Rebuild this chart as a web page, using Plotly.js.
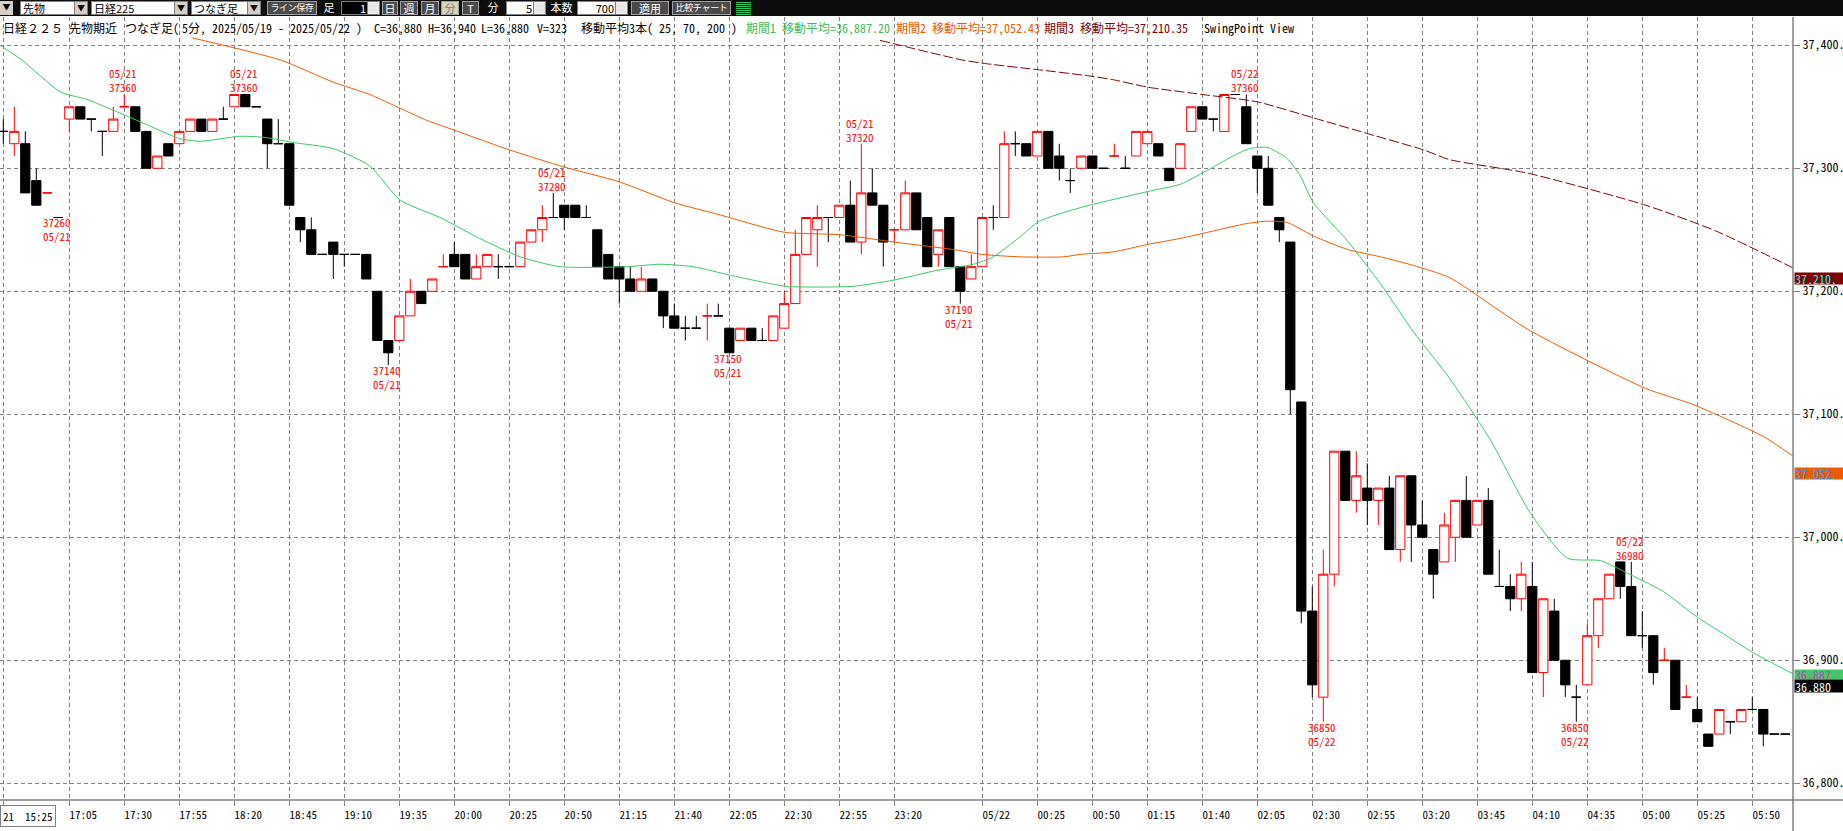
<!DOCTYPE html>
<html><head><meta charset="utf-8">
<script src="https://cdn.plot.ly/plotly-3.0.1.min.js"></script>
<style>
body{margin:0;padding:0;width:1843px;height:831px;overflow:hidden;background:#fff;position:relative;}
#chart{position:absolute;left:0;top:0;width:1843px;height:831px;}
#toolbar{position:absolute;left:0;top:0;width:1843px;height:16px;background:#0d0d0d;font-family:"Noto Sans CJK JP",sans-serif;}
.tb{position:absolute;top:1px;height:14px;font-size:11px;line-height:12px;box-sizing:border-box;white-space:pre;}
.sel{background:#fff;color:#000;border:1px solid #808080;padding-left:2px;}
.dd{position:absolute;right:0;top:0;width:12px;height:12px;background:#d4d0c8;border-left:1px solid #808080;font-size:8px;text-align:center;line-height:12px;color:#000;}
.btn{background:#4a4a4a;color:#fff;border:1px solid #a0a0a0;text-align:center;}
.lbl{color:#fff;text-align:center;}
.inp{background:#fff;color:#000;border:1px solid #808080;text-align:right;padding-right:13px;}
.spin{position:absolute;right:0;top:0;width:11px;height:12px;background:#e8e8e8;border-left:1px solid #808080;}
#header span{position:absolute;top:21px;font-size:12px;line-height:14px;white-space:pre;font-family:"Noto Sans Mono CJK JP","Noto Sans CJK JP",monospace;}
</style></head>
<body>
<div id="chart"></div>
<div id="toolbar">
 <div class="tb" style="left:0;width:13px;background:#d4d0c8;color:#000;text-align:center;font-size:8px;">▼</div>
 <div class="tb sel" style="left:20px;width:68px;">先物<div class="dd">▼</div></div>
 <div class="tb sel" style="left:91px;width:97px;">日経225<div class="dd">▼</div></div>
 <div class="tb sel" style="left:191px;width:70px;">つなぎ足<div class="dd">▼</div></div>
 <div class="tb btn" style="left:267px;width:50px;font-size:9px;letter-spacing:-0.4px;padding:0;">ライン保存</div>
 <div class="tb lbl" style="left:321px;width:16px;">足</div>
 <div class="tb inp" style="left:341px;width:39px;background:#000;color:#fff;">1<div class="spin"></div></div>
 <div class="tb btn" style="left:382px;width:16px;padding:0;">日</div>
 <div class="tb btn" style="left:400px;width:18px;padding:0;">週</div>
 <div class="tb btn" style="left:421px;width:18px;padding:0;">月</div>
 <div class="tb btn" style="left:441px;width:18px;padding:0;background:#d8d4b8;color:#777;">分</div>
 <div class="tb btn" style="left:462px;width:17px;padding:0;">T</div>
 <div class="tb lbl" style="left:485px;width:16px;">分</div>
 <div class="tb inp" style="left:506px;width:40px;">5<div class="spin"></div></div>
 <div class="tb lbl" style="left:548px;width:27px;">本数</div>
 <div class="tb inp" style="left:577px;width:51px;">700<div class="spin"></div></div>
 <div class="tb btn" style="left:631px;width:38px;">適用</div>
 <div class="tb btn" style="left:672px;width:59px;font-size:9px;letter-spacing:-0.3px;padding:0;">比較チャート</div>
 <div class="tb" style="left:736px;width:15px;background:repeating-linear-gradient(#0d0d0d 0 1px,#2ecc55 1px 2px);"></div>
</div>
<div id="header">
 <span style="left:3px;color:#000;">日経２２５</span>
 <span style="left:69px;color:#000;">先物期近</span>
 <span style="left:125px;color:#000;">つなぎ足(</span>
 <span style="left:182px;color:#000;">5分, 2025/05/19 -</span>
 <span style="left:290px;color:#000;">2025/05/22 )</span>
 <span style="left:374px;color:#000;">C=36,880</span>
 <span style="left:428px;color:#000;">H=36,940</span>
 <span style="left:481px;color:#000;">L=36,880</span>
 <span style="left:537px;color:#000;">V=323</span>
 <span style="left:581px;color:#000;">移動平均3本( 25, 70, 200 )</span>
 <span style="left:746px;color:#3cb85a;">期間1 移動平均=36,887.20</span>
 <span style="left:896px;color:#e85a00;">期間2 移動平均=37,052.43</span>
 <span style="left:1044px;color:#800000;">期間3 移動平均=37,210.35</span>
 <span style="left:1204px;color:#000;">SwingPoint View</span>
</div>
<script>
// ---- candle data (bar index 0 = 05/21 15:25, 5-minute bars) ----
const openP  = [37330,37320,37320,37290,37280,37260,37340,37350,37340,37330,37330,37350,37350,37330,37300,37320,37320,37330,37340,37330,
                37340,37350,37360,37350,37340,37320,37320,37260,37250,37230,37240,37230,37230,37230,37200,37160,37160,37180,37200,37200,
                37220,37230,37230,37210,37220,37220,37220,37220,37240,37250,37260,37270,37270,37260,37250,37230,37220,37210,37200,37210,
                37200,37180,37170,37170,37180,37180,37170,37160,37170,37160,37160,37170,37190,37230,37250,37260,37260,37270,37240,37280,
                37270,37250,37250,37280,37260,37230,37260,37220,37210,37220,37260,37260,37320,37320,37310,37330,37310,37290,37300,37310,
                37300,37310,37300,37310,37320,37320,37300,37300,37330,37350,37340,37330,37360,37350,37310,37300,37260,37240,37110,36940,
                36870,36970,37070,37030,37040,37030,37040,36990,37050,37010,36990,36980,37000,37030,37010,37030,36960,36960,36950,36960,
                36890,36940,36900,36870,36880,36920,36950,36980,36960,36920,36920,36900,36900,36870,36860,36840,36840,36850,36850,36860,
                36860,36840,36840];
const highP  = [37340,37350,37330,37300,37280,37260,37350,37350,37340,37330,37350,37360,37350,37330,37310,37320,37330,37340,37340,37340,
                37350,37360,37360,37350,37340,37340,37320,37260,37260,37230,37240,37230,37230,37230,37200,37160,37180,37210,37200,37210,
                37230,37240,37230,37230,37230,37230,37220,37240,37250,37270,37280,37270,37270,37270,37250,37230,37220,37220,37220,37210,
                37200,37190,37180,37180,37190,37190,37170,37170,37170,37170,37180,37200,37250,37260,37270,37260,37270,37290,37320,37300,
                37270,37250,37290,37280,37260,37250,37260,37220,37230,37260,37270,37330,37330,37320,37330,37330,37320,37300,37310,37310,
                37300,37320,37310,37330,37330,37320,37300,37320,37350,37350,37340,37360,37360,37360,37310,37310,37260,37240,37110,36960,
                36990,37070,37070,37070,37060,37040,37050,37050,37050,37030,36990,37020,37030,37050,37030,37040,36990,36970,36980,36980,
                36950,36950,36900,36880,36930,36950,36970,36980,36980,36940,36920,36910,36900,36880,36870,36840,36860,36850,36860,36870,
                36860,36840,36840];
const lowP   = [37320,37310,37280,37270,37280,37260,37330,37340,37330,37310,37330,37350,37330,37300,37300,37310,37320,37330,37330,37330,
                37340,37350,37350,37350,37300,37320,37270,37240,37230,37230,37210,37220,37230,37210,37160,37140,37160,37180,37190,37200,
                37220,37220,37210,37210,37220,37210,37220,37220,37240,37240,37260,37250,37260,37260,37220,37210,37190,37200,37200,37200,
                37170,37170,37160,37170,37160,37180,37150,37160,37160,37160,37160,37170,37190,37230,37220,37240,37260,37240,37230,37270,
                37220,37240,37250,37250,37220,37220,37220,37190,37210,37220,37250,37260,37310,37310,37310,37300,37290,37280,37300,37300,
                37300,37310,37300,37310,37320,37310,37290,37300,37330,37340,37330,37330,37360,37320,37280,37270,37240,37100,36930,36870,
                36850,36960,37030,37020,37010,37010,36990,36980,36980,37000,36950,36980,36980,37000,37010,36970,36960,36940,36940,36890,
                36870,36900,36870,36850,36880,36910,36950,36950,36920,36910,36880,36900,36860,36870,36850,36830,36840,36840,36850,36860,
                36830,36840,36840];
const closeP = [37330,37330,37280,37270,37280,37260,37350,37340,37340,37330,37340,37350,37330,37300,37310,37310,37330,37340,37330,37340,
                37340,37360,37350,37350,37320,37320,37270,37250,37230,37230,37230,37230,37230,37210,37160,37150,37180,37200,37190,37210,
                37220,37220,37210,37220,37230,37220,37220,37240,37250,37260,37260,37260,37260,37260,37220,37210,37210,37200,37210,37200,
                37180,37170,37170,37170,37180,37180,37150,37170,37160,37160,37180,37190,37230,37260,37260,37260,37270,37240,37280,37270,
                37240,37250,37280,37250,37220,37250,37220,37200,37220,37260,37260,37320,37320,37310,37330,37300,37300,37290,37310,37300,
                37300,37310,37300,37330,37330,37310,37290,37320,37350,37340,37340,37360,37360,37320,37300,37270,37250,37120,36940,36880,
                36970,37070,37030,37050,37030,37040,36990,37050,37010,37000,36970,37010,37030,37000,37030,36970,36960,36950,36970,36890,
                36950,36900,36880,36870,36920,36950,36970,36960,36920,36920,36890,36900,36860,36870,36850,36830,36860,36850,36860,36860,
                36840,36840,36840];

// ---- time axis ----
const tickIdx  = [6,11,16,21,26,31,36,41,46,51,56,61,66,71,76,81,89,94,99,104,109,114,119,124,129,134,139,144,149,154,159];
const tickText = ['17:05','17:30','17:55','18:20','18:45','19:10','19:35','20:00','20:25','20:50','21:15','21:40','22:05','22:30','22:55','23:20',
                  '05/22','00:25','00:50','01:15','01:40','02:05','02:30','02:55','03:20','03:45','04:10','04:35','05:00','05:25','05:50'];
const firstLabel = '21  15:25';
const priceTicks = [36800,36900,37000,37100,37200,37300,37400];

// ---- swing points ----
const swingIdx   = [5,11,22,35,50,66,78,87,113,120,143,148];
const swingPrice = [37260,37360,37360,37140,37280,37150,37320,37190,37360,36850,36850,36980];
const swingDate  = ['05/21','05/21','05/21','05/21','05/21','05/21','05/21','05/21','05/22','05/22','05/22','05/22'];
const swingHigh  = [false,true,true,false,true,false,true,false,true,false,false,true];

// ---- moving averages (bar-index positions) ----
const ma25Idx = [-0.3,1.7,5.2,7.6,12.4,16.1,17.9,21.5,23.9,26.3,30,33.3,36.1,39.7,43.3,47,50.6,56.7,59.7,62.7,66.1,68.2,71.2,77.2,80.9,84.9,88.2,90,92.4,94.2,97.9,104,107,110,111.8,113.3,114.9,116.7,117.9,119.1,122.2,125.2,128.2,131.5,135.2,138.8,142.2,145.2,147.6,150.9,154,156.3,159.1,162.7];
const ma25Val = [37400,37388,37362,37356,37338,37324,37322,37326,37325,37321,37316,37302,37274,37260,37243,37228,37220,37220,37222,37220,37213,37209,37204,37204,37209,37217,37222,37228,37244,37257,37268,37281,37287,37301,37310,37316,37317,37308,37294,37272,37241,37206,37167,37129,37079,37020,36983,36981,36971,36956,36935,36922,36906,36889];
const ma70Idx = [17.2,25.2,30,33.3,38.5,41,46,51,56,61,65.2,71,76,81,86.3,89,92.4,96.4,97.9,100.9,104,107,110,113,114.9,116.7,119.1,122.2,125.2,128.2,131.5,138.6,149.3,153.6,160,162.7];
const ma70Val = [37406,37388,37370,37360,37339,37331,37315,37301,37289,37272,37262,37248,37246,37240,37234,37230,37228,37228,37230,37232,37238,37243,37249,37255,37257,37256,37245,37234,37228,37221,37211,37169,37121,37108,37082,37066];
const ma200Idx = [79.7,87.2,89.4,94.2,98.8,100.9,104,109,114,119.1,124.1,129.1,131.5,138.6,149.3,155.7,162.7];
const ma200Val = [37404,37388,37385,37380,37375,37372,37366,37360,37354,37341,37328,37315,37307,37296,37270,37249,37219];
const maLast = [36887, 37052, 37210];
const lastPrice = 36880;

// ---- build traces ----
const up = {x:[],o:[],h:[],l:[],c:[]}, dn = {x:[],o:[],h:[],l:[],c:[]};
for (let i = 0; i < openP.length; i++) {
  const prev = i > 0 ? closeP[i-1] : null;
  const isUp = closeP[i] > openP[i] || (closeP[i] === openP[i] && prev !== null && closeP[i] > prev);
  const t = isUp ? up : dn;
  t.x.push(i); t.o.push(openP[i]); t.h.push(highP[i]); t.l.push(lowP[i]); t.c.push(closeP[i]);
}
function candle(d, col, fill) {
  return {type:'candlestick', x:d.x, open:d.o, high:d.h, low:d.l, close:d.c,
    increasing:{line:{color:col,width:1},fillcolor:fill},
    decreasing:{line:{color:col,width:1},fillcolor:fill},
    whiskerwidth:0, hoverinfo:'skip', showlegend:false};
}
const traces = [
  {type:'scatter',mode:'lines',x:ma70Idx,y:ma70Val,line:{color:'#f05a00',width:1,shape:'spline',smoothing:0.6},hoverinfo:'skip',showlegend:false},
  {type:'scatter',mode:'lines',x:ma200Idx,y:ma200Val,line:{color:'#800000',width:1,dash:'10px,3px',shape:'spline',smoothing:0.6},hoverinfo:'skip',showlegend:false},
  {type:'scatter',mode:'lines',x:ma25Idx,y:ma25Val,line:{color:'#3cc864',width:1,shape:'spline',smoothing:0.6},hoverinfo:'skip',showlegend:false},
  candle(up,'#ff0000','#ffffff'),
  candle(dn,'#000000','#000000')
];

const MONO = '"Noto Sans Mono CJK JP","Noto Sans CJK JP",monospace';
const annotations = [];
swingIdx.forEach((ix, k) => {
  const f = {family:MONO,size:11,color:'#ff0000'};
  const txt = swingHigh[k] ? swingDate[k] + '<br>' + swingPrice[k] : swingPrice[k] + '<br>' + swingDate[k];
  annotations.push({x:ix,y:swingPrice[k],xref:'x',yref:'y',text:txt,showarrow:false,yanchor:'middle',
    yshift: swingHigh[k] ? 14 : -12, xshift:-1.5, borderpad:0, font:f});
});
const fmt = v => v.toLocaleString('en-US');
const boxes = [
  {v:maLast[2], bg:'#800000', fc:'#00ffff', t:fmt(maLast[2])+'.', h:11, s:0},
  {v:maLast[1], bg:'#f05a00', fc:'#3399ff', t:fmt(maLast[1])+'.', h:11, s:0},
  {v:maLast[0], bg:'#44c868', fc:'#c040c0', t:fmt(maLast[0])+'.', h:9, s:2},
  {v:lastPrice, bg:'#000000', fc:'#ffffff', t:fmt(lastPrice), h:12, s:-1}
];
boxes.forEach(b => annotations.push({x:1,y:b.v,xref:'paper',yref:'y',xanchor:'left',xshift:1,yshift:b.s,text:b.t,showarrow:false,
  bgcolor:b.bg,width:48,height:b.h,align:'left',borderpad:0,font:{family:MONO,size:12,color:b.fc}}));
annotations.push({x:0,y:-16/783,xref:'paper',yref:'paper',xanchor:'left',yanchor:'middle',xshift:0,text:firstLabel,showarrow:false,
  bordercolor:'#808080',borderwidth:1,borderpad:2,font:{family:MONO,size:11,color:'#000'}});

const layout = {
  width:1843,height:831,margin:{l:0,r:50,t:17,b:31},
  paper_bgcolor:'#ffffff',plot_bgcolor:'#ffffff',
  boxgap:0.16, boxgroupgap:0,
  xaxis:{range:[-0.3,162.7],rangeslider:{visible:false},tickvals:[0].concat(tickIdx),ticktext:[''].concat(tickText),
    showgrid:true,gridcolor:'#808080',griddash:'4px,3px',gridwidth:1,zeroline:false,
    ticks:'outside',ticklen:5,tickcolor:'#808080',showline:false,ticklabelshift:14,
    tickfont:{family:MONO,size:11,color:'#000'}},
  yaxis:{side:'right',range:[36786.4,37423],tickvals:priceTicks,ticktext:priceTicks.map(v=>fmt(v)+'.'),
    showgrid:true,gridcolor:'#808080',griddash:'4px,3px',gridwidth:1,zeroline:false,
    ticks:'outside',ticklen:6,tickcolor:'#808080',showline:false,
    tickfont:{family:MONO,size:12,color:'#000'}},
  shapes:[
    {type:'line',xref:'paper',yref:'paper',x0:1,x1:1,y0:-31/783,y1:1,line:{color:'#808080',width:1.5}},
    {type:'line',xref:'paper',yref:'paper',x0:0,x1:1843/1793,y0:0,y1:0,line:{color:'#808080',width:1.5}}
  ],
  annotations:annotations,
  showlegend:false
};
Plotly.newPlot('chart',traces,layout,{staticPlot:true,displayModeBar:false});
</script>
</body></html>
